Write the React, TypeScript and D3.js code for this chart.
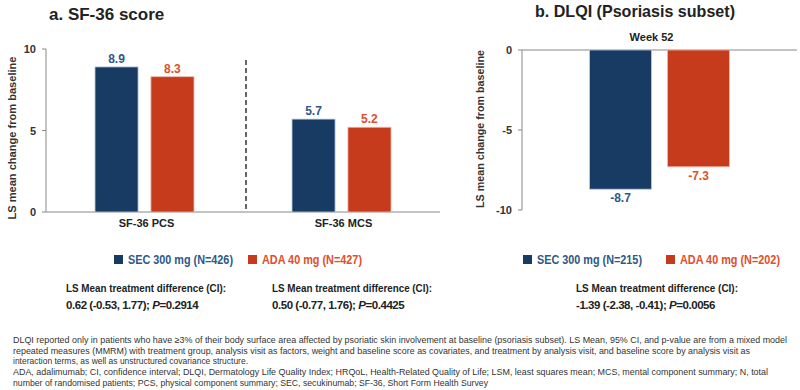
import React from "react";
import * as d3 from "d3";

// values
const categoriesA = ["SF-36 PCS", "SF-36 MCS"];
const secA = [8.9, 5.7];
const adaA = [8.3, 5.2];
const categoriesB = ["Week 52"];
const secB = [-8.7];
const adaB = [-7.3];
const series = ["SEC", "ADA"];
const ticksA = [0, 5, 10];
const ticksB = [0, -5, -10];
const legendA = ["SEC 300 mg (N=426)", "ADA 40 mg (N=427)"];
const legendB = ["SEC 300 mg (N=215)", "ADA 40 mg (N=202)"];
const diffHead = "LS Mean treatment difference (CI):";
const diffA = [
  ["0.62 (-0.53, 1.77); ", "=0.2914"],
  ["0.50  (-0.77, 1.76); ", "=0.4425"],
];
const diffB = [["-1.39 (-2.38, -0.41); ", "=0.0056"]];
const footnote = [
  "DLQI reported only in patients who have ≥3% of their body surface area affected by psoriatic skin involvement at baseline (psoriasis subset). LS Mean, 95% CI, and p-value are from a mixed model",
  "repeated measures (MMRM) with treatment group, analysis visit as factors, weight and baseline score as covariates, and treatment by analysis visit, and baseline score by analysis visit as",
  "interaction terms, as well as unstructured covariance structure.",
  "ADA, adalimumab;  CI,  confidence interval; DLQI, Dermatology Life Quality Index; HRQoL, Health-Related Quality of Life; LSM, least squares mean; MCS, mental component summary;  N, total",
  "number  of randomised patients; PCS, physical component summary;  SEC, secukinumab;  SF-36, Short Form Health Survey",
];
const footWidths = [774, 737, 235, 755, 475];

const NAVY = "#173b63";
const RED = "#c73b1d";
const NAVY_TXT = "#2d5888";
const RED_TXT = "#e04e2c";
const FONT = "'Liberation Sans', Arial, sans-serif";

const App = () => {
  // panel a
  const yA = d3.scaleLinear().domain([0, 10]).range([212, 49]);
  const xA = d3.scaleBand().domain(categoriesA).range([46, 440]);
  const innerA = d3.scaleBand().domain(series).range([-49.5, 49.5]).paddingInner(0.23);
  const barsA = categoriesA.flatMap((c, i) => [
    { c, s: "SEC", v: secA[i] },
    { c, s: "ADA", v: adaA[i] },
  ]);

  // panel b
  const yB = d3.scaleLinear().domain([-10, 0]).range([210, 50]);
  const xB = d3.scaleBand().domain(categoriesB).range([522, 797]);
  const innerB = d3.scaleBand().domain(series).range([-70, 70]).paddingInner(0.205);
  const barsB = categoriesB.flatMap((c, i) => [
    { c, s: "SEC", v: secB[i] },
    { c, s: "ADA", v: adaB[i] },
  ]);

  const fill = (s) => (s === "SEC" ? NAVY : RED);
  const txt = (s) => (s === "SEC" ? NAVY_TXT : RED_TXT);
  const edge = (s) => (s === "SEC" ? "#b9cbe0" : "#f0b9a8");

  const legend = (labels, xs, y) =>
    labels.map((l, i) => (
      <g key={l}>
        <rect x={xs[i]} y={y - 4} width={9} height={9} fill={fill(series[i])} />
        <text x={xs[i] + 14} y={y + 4.5} fontSize={12.5} fontWeight="bold" fill={txt(series[i])}
          textLength={i === 0 ? 105 : 100} lengthAdjust="spacingAndGlyphs">
          {l}
        </text>
      </g>
    ));

  const diffBlock = (d, x, w1) => (
    <g key={x}>
      <text x={x} y={292} fontSize={11.5} fontWeight="bold" fill="#222" textLength={w1} lengthAdjust="spacingAndGlyphs">
        {diffHead}
      </text>
      <text x={x} y={309} fontSize={11.5} fontWeight="bold" fill="#222" letterSpacing={-0.45}>
        {d[0]}
        <tspan fontStyle="italic">P</tspan>
        {d[1]}
      </text>
    </g>
  );

  return (
    <svg width={800} height={390} style={{ position: "absolute", left: 0, top: 0, background: "#fff" }} fontFamily={FONT}>
      {/* titles */}
      <text x={49} y={20} fontSize={17} fontWeight="bold" fill="#222">a. SF-36 score</text>
      <text x={535} y={17} fontSize={17} fontWeight="bold" fill="#222" textLength={200} lengthAdjust="spacingAndGlyphs">
        b. DLQI (Psoriasis subset)
      </text>

      {/* panel a axes */}
      <line x1={46} x2={46} y1={yA(10)} y2={yA(0)} stroke="#888" />
      <line x1={46} x2={440} y1={yA(0)} y2={yA(0)} stroke="#888" />
      {ticksA.map((t) => (
        <g key={t}>
          <line x1={42} x2={46} y1={yA(t)} y2={yA(t)} stroke="#888" />
          <text x={36} y={yA(t) + 4} textAnchor="end" fontSize={11} fontWeight="bold" fill="#333">{t}</text>
        </g>
      ))}
      <text transform="translate(16,138) rotate(-90)" textAnchor="middle" fontSize={11} fontWeight="bold" fill="#333"
        textLength={163} lengthAdjust="spacingAndGlyphs">
        LS mean change from baseline
      </text>
      <line x1={246} x2={246} y1={60} y2={212} stroke="#333" strokeWidth={1.5} strokeDasharray="5,3" />
      {barsA.map((b) => {
        const x = xA(b.c) + xA.bandwidth() / 2 + innerA(b.s);
        return (
          <g key={b.c + b.s}>
            <rect x={x} y={yA(b.v)} width={innerA.bandwidth()} height={yA(0) - yA(b.v)} fill={fill(b.s)} stroke={edge(b.s)} strokeWidth={0.8} />
            <text x={x + innerA.bandwidth() / 2} y={yA(b.v) - 4} textAnchor="middle" fontSize={12} fontWeight="bold" fill={txt(b.s)}>
              {b.v.toFixed(1)}
            </text>
          </g>
        );
      })}
      {categoriesA.map((c) => (
        <text key={c} x={xA(c) + xA.bandwidth() / 2 + 2} y={227} textAnchor="middle" fontSize={11} fontWeight="bold" fill="#222">{c}</text>
      ))}

      {/* panel b axes */}
      <line x1={522} x2={522} y1={yB(0)} y2={yB(-10)} stroke="#888" />
      <line x1={522} x2={797} y1={yB(0)} y2={yB(0)} stroke="#888" />
      {ticksB.map((t) => (
        <g key={t}>
          <line x1={518} x2={522} y1={yB(t)} y2={yB(t)} stroke="#888" />
          <text x={512} y={yB(t) + 4} textAnchor="end" fontSize={11} fontWeight="bold" fill="#333">{t}</text>
        </g>
      ))}
      <text transform="translate(484,129) rotate(-90)" textAnchor="middle" fontSize={11} fontWeight="bold" fill="#333"
        textLength={158} lengthAdjust="spacingAndGlyphs">
        LS mean change from baseline
      </text>
      {categoriesB.map((c) => (
        <text key={c} x={xB(c) + xB.bandwidth() / 2 - 8} y={41} textAnchor="middle" fontSize={11} fontWeight="bold" fill="#222">{c}</text>
      ))}
      {barsB.map((b) => {
        const x = xB(b.c) + xB.bandwidth() / 2 + innerB(b.s);
        return (
          <g key={b.c + b.s}>
            <rect x={x} y={yB(0)} width={innerB.bandwidth()} height={yB(b.v) - yB(0)} fill={fill(b.s)} stroke={edge(b.s)} strokeWidth={0.8} />
            <text x={x + innerB.bandwidth() / 2} y={yB(b.v) + 13} textAnchor="middle" fontSize={12} fontWeight="bold" fill={txt(b.s)}>
              {b.v.toFixed(1)}
            </text>
          </g>
        );
      })}

      {/* legends */}
      {legend(legendA, [114, 248], 259)}
      {legend(legendB, [523, 666], 259)}

      {/* treatment differences */}
      {diffBlock(diffA[0], 66, 160)}
      {diffBlock(diffA[1], 272, 160)}
      {diffBlock(diffB[0], 576, 162)}

      {/* footnote */}
      {footnote.map((f, i) => (
        <text key={i} x={13} y={343 + i * 10.7} fontSize={9} fill="#333" textLength={footWidths[i]} lengthAdjust="spacingAndGlyphs">
          {f}
        </text>
      ))}
    </svg>
  );
};

export default App;
